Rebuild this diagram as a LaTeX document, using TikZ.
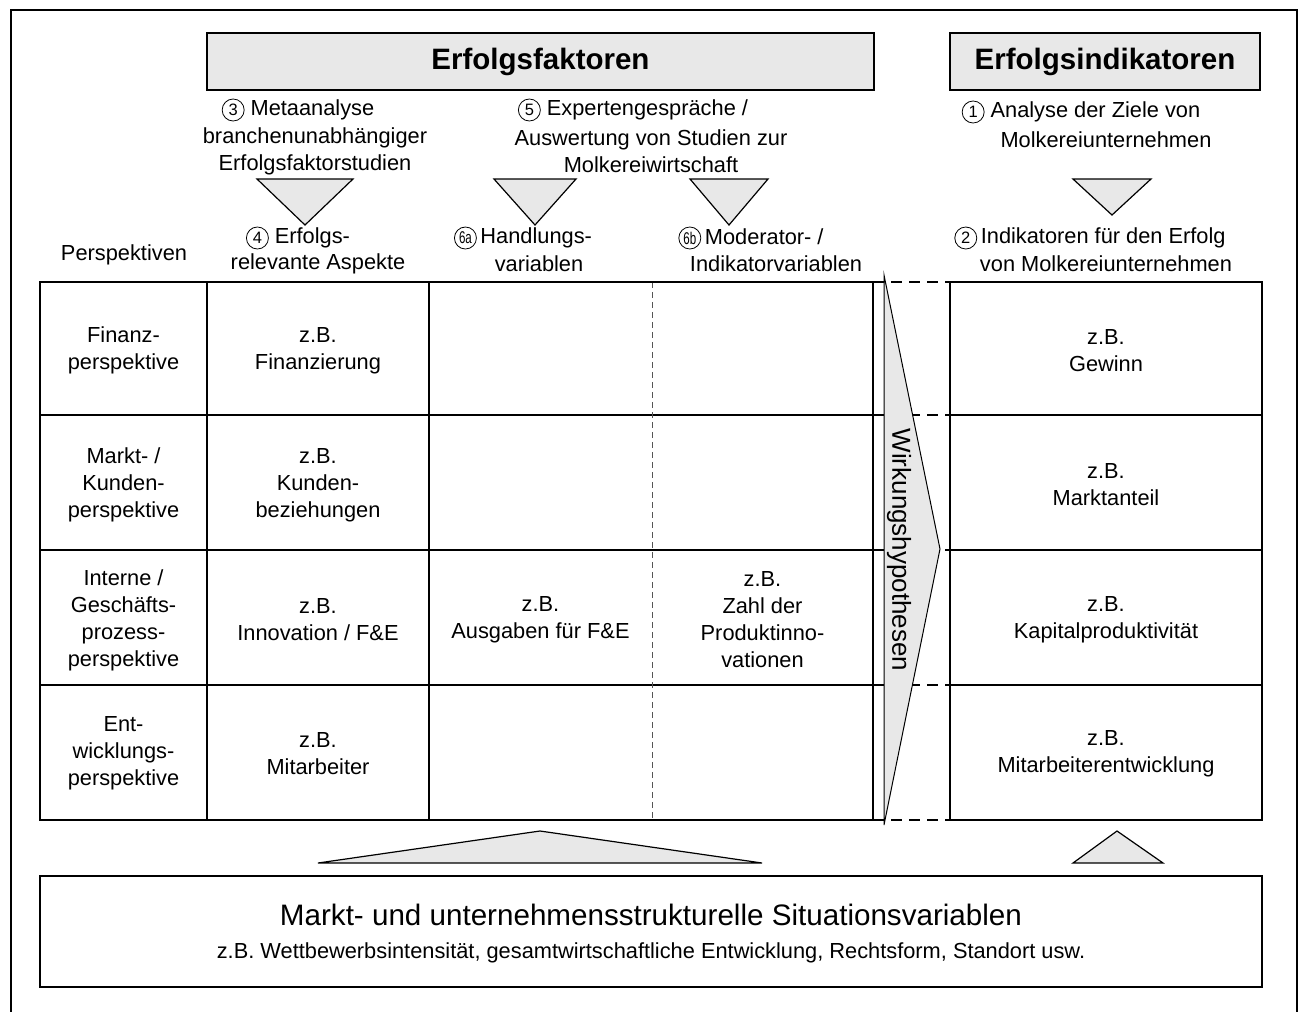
\documentclass[tikz,border=0pt]{standalone}
\usepackage{fontspec}
\usepackage{graphicx}
\setmainfont{Liberation Sans}
\definecolor{boxgray}{HTML}{E8E8E8}
\definecolor{dashgray}{HTML}{555555}

% circled step number placed in front of a label
\newcommand{\cnum}[1]{\tikz[x=1pt,y=1pt,baseline=(c.base)]\node[draw,circle,line width=0.8pt,inner sep=0pt,minimum size=22pt,font=\fontsize{16.5}{16.5}\selectfont](c){#1};}
\newcommand{\cnumsmall}[1]{\tikz[x=1pt,y=1pt,baseline=(c.base)]\node[draw,circle,line width=0.8pt,inner sep=0pt,minimum size=22pt,font=\fontsize{17}{17}\selectfont](c){\scalebox{0.68}[1]{#1}};}

\begin{document}
\begin{tikzpicture}[x=1pt,y=-1pt,
  body/.style={font=\fontsize{21.8}{27}\selectfont,align=center,inner sep=0pt},
  head/.style={draw,fill=boxgray,line width=1.5pt,inner sep=0pt,
    font=\fontsize{29.5}{35}\selectfont\bfseries},
  tri/.style={draw,fill=boxgray,line width=1.2pt,line join=miter},
  grid/.style={line width=1.4pt},
  border/.style={line width=2.3pt},
  link/.style={line width=2.6pt,dash pattern=on 11pt off 7pt}]
\useasboundingbox (0,0) rectangle (1302,1012);

% outer frame (open at the bottom)
\draw[line width=2.6pt] (11,1012) -- (11,10) -- (1297,10) -- (1297,1012);

% headings
\node[head,minimum width=667pt,minimum height=57pt] (ef) at (540.5,61.5) {Erfolgsfaktoren};
\node[head,minimum width=310pt,minimum height=57pt] (ei) at (1105,61.5) {Erfolgsindikatoren};

% sources and steps
\node[body] (s3a) at (298,110) {\cnum{3} Metaanalyse};
\node[body] (s3b) at (315,151) {branchenunabhängiger\\Erfolgsfaktorstudien};
\node[body] (s5a) at (633,110) {\cnum{5} Expertengespräche /};
\node[body] (s5b) at (651,151) {Auswertung von Studien zur\\Molkereiwirtschaft};
\node[body] (s1a) at (1081,112) {\cnum{1} Analyse der Ziele von};
\node[body] (s1b) at (1106,140) {Molkereiunternehmen};

% downward triangles
\draw[tri] (257,179) -- (353,179) -- (305,225) -- cycle;
\draw[tri] (494,179) -- (576,179) -- (535,225) -- cycle;
\draw[tri] (690,179) -- (768,179) -- (729,225) -- cycle;
\draw[tri] (1073,179) -- (1151,179) -- (1112,215) -- cycle;

% column headings
\node[body] (persp) at (124,255) {Perspektiven};
\node[body] (s4a) at (298,238) {\cnum{4} Erfolgs-};
\node[body] (s4b) at (318,264) {relevante Aspekte};
\node[body] (s6a) at (523,238) {\cnumsmall{6a}\,Handlungs-};
\node[body] (s6ab) at (539,264) {variablen};
\node[body] (s6b) at (751,238) {\cnumsmall{6b}\,Moderator- /};
\node[body] (s6bb) at (776,264) {Indikatorvariablen};
\node[body] (s2a) at (1090,238) {\cnum{2}\,Indikatoren für den Erfolg};
\node[body] (s2b) at (1106,264) {von Molkereiunternehmen};

% links between the two tables
\foreach \yy in {282,415,550,685,820}
  \draw[link] (873,\yy) -- (950,\yy);

% success factor table
\foreach \yy in {415,550,685}
  \draw[grid] (40,\yy) -- (873,\yy);
\draw[grid] (207,282) -- (207,820);
\draw[grid] (429,282) -- (429,820);
\draw[line width=1pt,dashgray,dash pattern=on 6pt off 4pt] (652,282) -- (652,820);
\draw[border] (40,282) rectangle (873,820);

% success indicator table
\foreach \yy in {415,550,685}
  \draw[grid] (950,\yy) -- (1262,\yy);
\draw[border] (950,282) rectangle (1262,820);

% cause-effect arrow
\draw[line width=1pt,fill=boxgray,line join=miter] (884,275) -- (940,549) -- (884,825) -- cycle;
\node[rotate=-90,inner sep=0pt,font=\fontsize{26}{26}\selectfont] (wh) at (899,550) {Wirkungshypothesen};

% table cells
\node[body] (c11) at (123.5,350.5) {Finanz-\\perspektive};
\node[body] (c21) at (123.5,485) {Markt- /\\Kunden-\\perspektive};
\node[body] (c31) at (123.5,620) {Interne /\\Geschäfts-\\prozess-\\perspektive};
\node[body] (c41) at (123.5,753) {Ent-\\wicklungs-\\perspektive};
\node[body] (c12) at (318,350.5) {z.B.\\Finanzierung};
\node[body] (c22) at (318,485) {z.B.\\Kunden-\\beziehungen};
\node[body] (c32) at (318,620) {z.B.\\Innovation / F\&E};
\node[body] (c42) at (318,754) {z.B.\\Mitarbeiter};
\node[body] (c33) at (540.5,620) {z.B.\\Ausgaben für F\&E};
\node[body] (c34) at (762.5,620) {z.B.\\Zahl der\\Produktinno-\\vationen};
\node[body] (r1) at (1106,350.5) {z.B.\\Gewinn};
\node[body] (r2) at (1106,485) {z.B.\\Marktanteil};
\node[body] (r3) at (1106,620) {z.B.\\Kapitalproduktivität};
\node[body] (r4) at (1106,754) {z.B.\\Mitarbeiterentwicklung};

% upward triangles
\draw[tri] (318,863) -- (540,831) -- (762,863) -- cycle;
\draw[tri] (1073,863) -- (1117,831) -- (1163,863) -- cycle;

% situation variables
\node[draw,line width=2pt,minimum width=1222pt,minimum height=111pt,inner sep=0pt] (sit) at (651,931.5) {};
\node[body,font=\fontsize{21.8}{33}\selectfont] (sitt) at ([yshift=-2pt]sit.center)
  {{\fontsize{29.6}{33}\selectfont Markt- und unternehmensstrukturelle Situationsvariablen}\\
   z.B. Wettbewerbsintensität, gesamtwirtschaftliche Entwicklung, Rechtsform, Standort usw.};
\end{tikzpicture}
\end{document}
